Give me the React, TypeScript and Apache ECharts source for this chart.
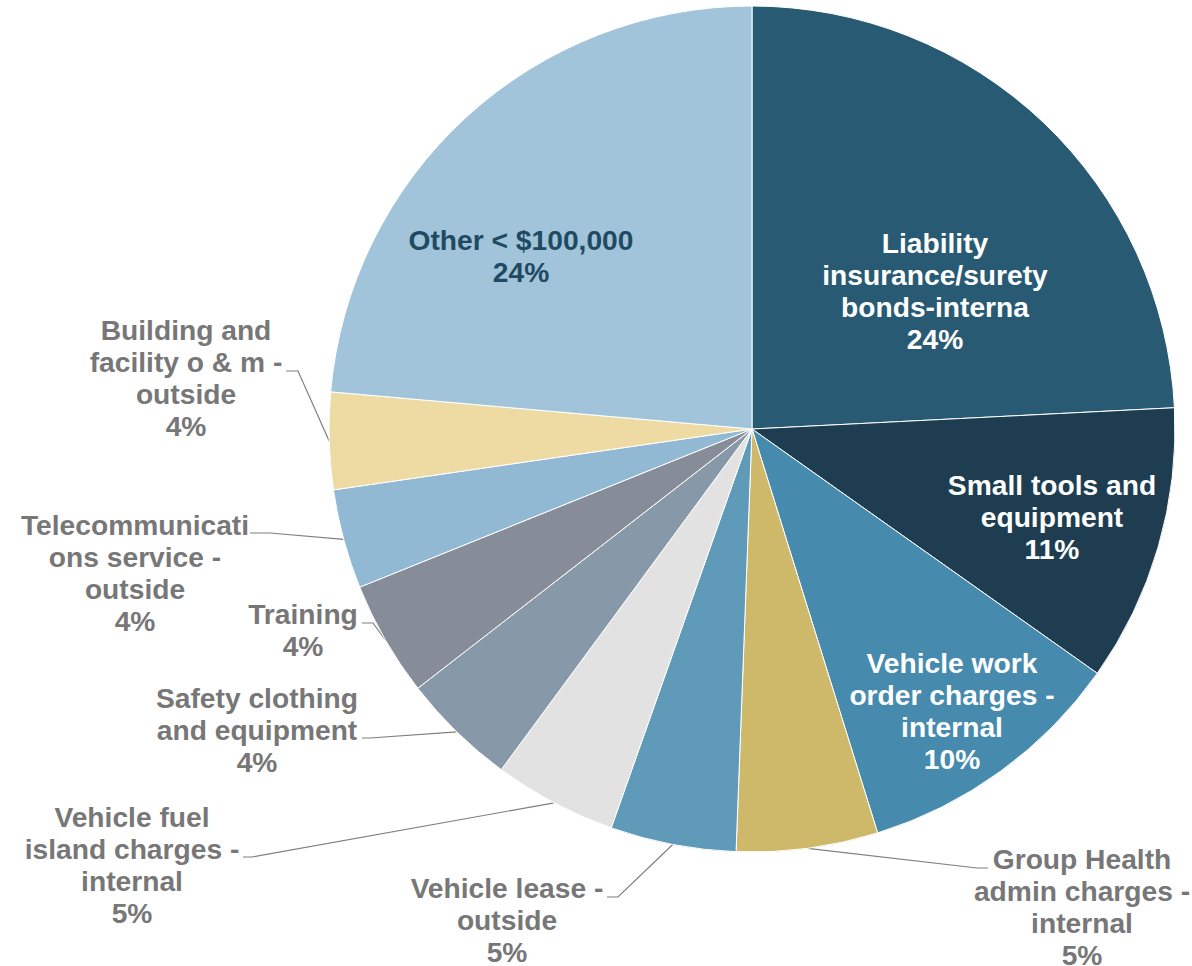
import React, { useEffect, useRef } from "react";
import * as echarts from "echarts";

const categories = [
  "Liability insurance/surety bonds-interna",
  "Small tools and equipment",
  "Vehicle work order charges - internal",
  "Group Health admin charges - internal",
  "Vehicle lease - outside",
  "Vehicle fuel island charges - internal",
  "Safety clothing and equipment",
  "Training",
  "Telecommunications service - outside",
  "Building and facility o & m - outside",
  "Other < $100,000",
];

const values = [24.2, 10.6, 10.4, 5.4, 4.8, 4.7, 4.4, 4.4, 3.8, 3.7, 23.6];

const wrappedLabels = [
  "Liability\ninsurance/surety\nbonds-interna",
  "Small tools and\nequipment",
  "Vehicle work\norder charges -\ninternal",
  "Group Health\nadmin charges -\ninternal",
  "Vehicle lease -\noutside",
  "Vehicle fuel\nisland charges -\ninternal",
  "Safety clothing\nand equipment",
  "Training",
  "Telecommunicati\nons service -\noutside",
  "Building and\nfacility o & m -\noutside",
  "Other < $100,000",
];

const sliceColors = [
  "#285A73",
  "#1E3D51",
  "#468AAE",
  "#CEB86A",
  "#5F9BB9",
  "#E2E2E2",
  "#8799A8",
  "#868D98",
  "#92B9D4",
  "#EEDBA4",
  "#A2C4DA",
];

const insideSlices = [0, 1, 2, 10];

// label layout (positions in px, center of text block; bend/end of leader line)
const CX = 752;
const CY = 429;
const R = 423;
const labelLayouts: { x: number; y: number; bend?: number[]; end?: number[] }[] = [
  { x: 935, y: 291 },
  { x: 1052, y: 517 },
  { x: 952, y: 711 },
  { x: 1082, y: 907, bend: [977, 868], end: [988, 868] },
  { x: 507, y: 920, bend: [618, 897], end: [607, 897] },
  { x: 132, y: 865, bend: [252, 857], end: [243, 857] },
  { x: 257, y: 730, bend: [370, 738], end: [362, 738] },
  { x: 303, y: 630, bend: [373, 623], end: [362, 623] },
  { x: 135, y: 573, bend: [270, 533], end: [250, 533] },
  { x: 186, y: 378, bend: [298, 371], end: [286, 371] },
  { x: 521, y: 256 },
];

export default function App() {
  const ref = useRef<HTMLDivElement>(null);
  useEffect(() => {
    if (!ref.current) return;
    const chart = echarts.init(ref.current, undefined, { renderer: "svg" });
    const total = values.reduce((a, b) => a + b, 0);
    const cum: number[] = [];
    let acc = 0;
    values.forEach((v) => {
      cum.push(acc + v / 2);
      acc += v;
    });

    const data = categories.map((name, i) => {
      const inside = insideSlices.includes(i);
      return {
        name,
        value: values[i],
        itemStyle: { color: sliceColors[i] },
        label: {
          position: inside ? "inside" : "outside",
          color: inside ? (i === 10 ? "#1F4A62" : "#FFFFFF") : "#777777",
        },
        labelLine: { show: !inside },
      };
    });

    chart.setOption({
      animation: false,
      backgroundColor: "#FFFFFF",
      series: [
        {
          type: "pie",
          center: [CX, CY],
          radius: [0, R],
          startAngle: 90,
          clockwise: true,
          avoidLabelOverlap: false,
          data,
          itemStyle: { borderColor: "#FFFFFF", borderWidth: 1 },
          label: {
            show: true,
            fontFamily: "'Liberation Sans', Arial, sans-serif",
            fontWeight: "bold",
            fontSize: 28.2,
            lineHeight: 32,
            align: "center",
            formatter: (p: any) =>
              wrappedLabels[p.dataIndex] +
              "\n" +
              Math.round((p.value / total) * 100) +
              "%",
          },
          labelLine: {
            show: true,
            lineStyle: { color: "#7F7F7F", width: 1.2 },
          },
          labelLayout: (params: any) => {
            const i = params.dataIndex;
            const L = labelLayouts[i];
            const out: any = {
              x: L.x,
              y: L.y,
              align: "center",
              verticalAlign: "middle",
            };
            if (L.bend && L.end) {
              const ang = ((cum[i] / total) * 360 * Math.PI) / 180;
              const sx = CX + R * Math.sin(ang);
              const sy = CY - R * Math.cos(ang);
              out.labelLinePoints = [
                [sx, sy],
                L.bend,
                L.end,
              ];
            }
            return out;
          },
        },
      ],
    });
    return () => chart.dispose();
  }, []);

  return (
    <div
      ref={ref}
      style={{ position: "absolute", left: 0, top: 0, width: 1192, height: 966 }}
    />
  );
}
